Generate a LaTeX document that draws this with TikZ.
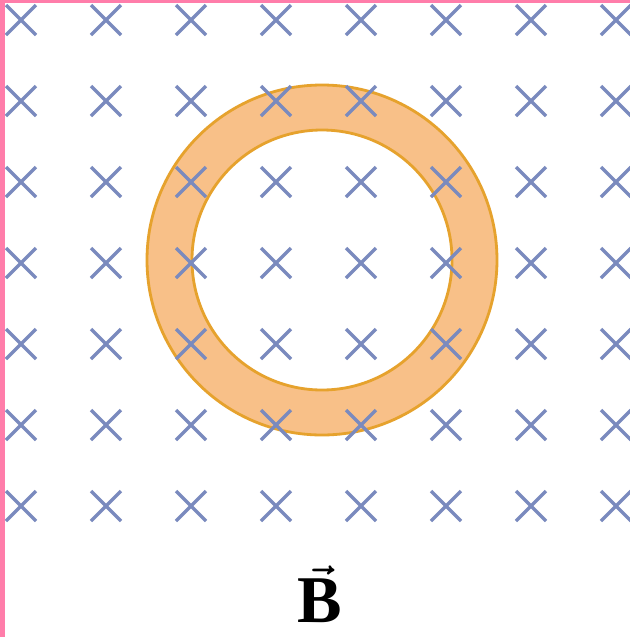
\documentclass[tikz,border=0pt]{standalone}
\usepackage{fontspec}
\setmainfont{Liberation Serif}
\usetikzlibrary{positioning}
\definecolor{crossblue}{RGB}{122,138,190}
\definecolor{ringfill}{RGB}{248,192,136}
\definecolor{ringedge}{RGB}{230,162,45}
\definecolor{frameedge}{RGB}{255,125,170}
\tikzset{
  ringband/.style={draw=ringedge,line width=1.6pt,fill=ringfill,even odd rule},
  bcross/.style={draw=crossblue,line width=2pt},
  flabel/.style={inner sep=0pt,font=\fontsize{38}{38}\selectfont\boldmath}
}

\begin{document}
\begin{tikzpicture}[x=0.02cm,y=-0.02cm]
\useasboundingbox (0,0) rectangle (630,637);
\fill[white] (0,0) rectangle (630,637);
% the ring
\draw[ringband] (322,260) circle[radius=175] (322,260) circle[radius=130];
% field into the page
\foreach \i in {0,...,7}
  \foreach \j in {0,...,6}
    \draw[bcross] ({21+85*\i-15},{20+81*\j-15}) -- ++(30,30)
                  ({21+85*\i+15},{20+81*\j-15}) -- ++(-30,30);
% frame edges
\fill[frameedge] (0,0) rectangle (5,637);
\fill[frameedge] (0,0) rectangle (630,3);
\node[flabel,anchor=base] (bfield) at (320,622) {$\vec{\textbf{B}}$};
\end{tikzpicture}
\end{document}
